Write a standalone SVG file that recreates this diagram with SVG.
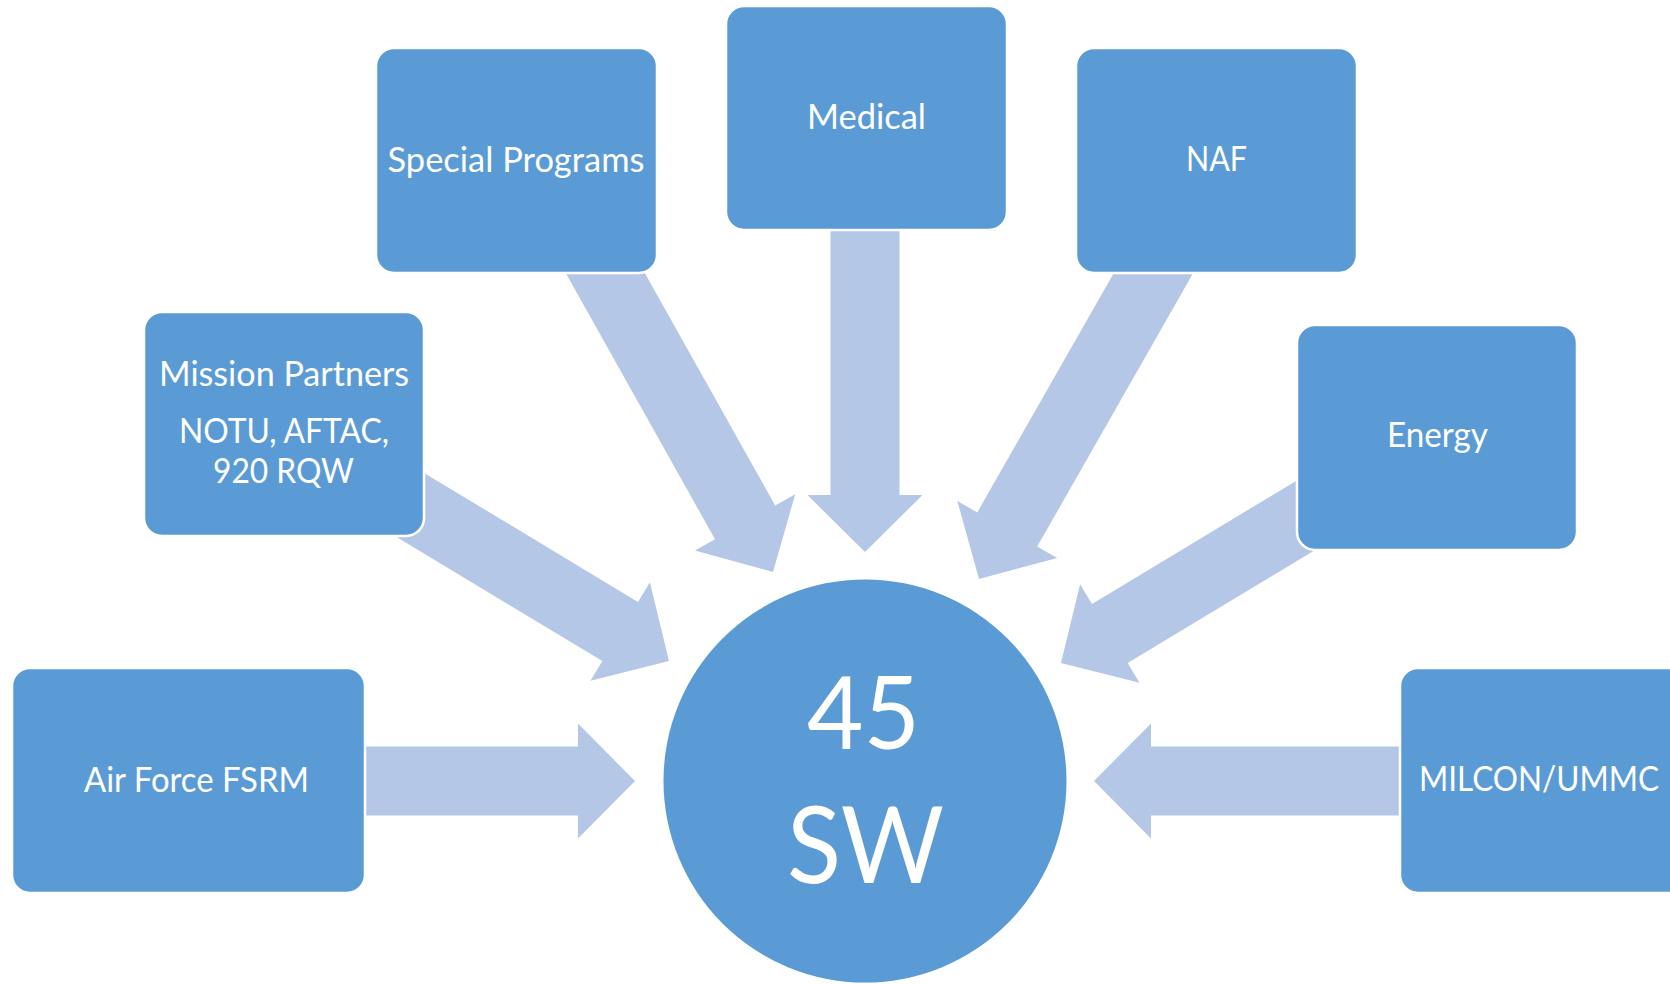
<svg xmlns="http://www.w3.org/2000/svg" width="1670" height="984" viewBox="0 0 1670 984">
<defs>
<style>
.box{fill:#5B9BD5;stroke:#FFFFFF;stroke-width:2.5}
.arr{fill:#B4C7E7}
.t{fill:#FFFFFF;font-family:Lato,"Open Sans","Liberation Sans",sans-serif;font-size:34px;text-anchor:middle}
.big{fill:#FFFFFF;font-family:Lato,"Open Sans","Liberation Sans",sans-serif;text-anchor:middle}
</style>
<path id="arrow" d="M-377,-34.5 L-57,-34.5 L-57,-57.5 L0,0 L-57,57.5 L-57,34.5 L-377,34.5 Z"/>
</defs>
<rect width="1670" height="984" fill="#FFFFFF"/>
<g id="connectors">
<use href="#arrow" class="arr" transform="translate(635,781) rotate(0)"/>
<use href="#arrow" class="arr" transform="translate(1094,781) rotate(180)"/>
<use href="#arrow" class="arr" transform="translate(865,552) rotate(90)"/>
<use href="#arrow" class="arr" transform="translate(773,572) rotate(60.7)"/>
<use href="#arrow" class="arr" transform="translate(979,579) rotate(119.7)"/>
<use href="#arrow" class="arr" transform="translate(669,661) rotate(31.1)"/>
<use href="#arrow" class="arr" transform="translate(1061,663) rotate(148.9)"/>
</g>
<g id="node-special">
<rect class="box" x="376" y="48" width="281" height="225" rx="18"/>
<text class="t" x="516" y="172" textLength="257" lengthAdjust="spacingAndGlyphs">Special Programs</text>
</g>
<g id="node-medical">
<rect class="box" x="726" y="6" width="281" height="224" rx="18"/>
<text class="t" x="866.5" y="129" textLength="119" lengthAdjust="spacingAndGlyphs">Medical</text>
</g>
<g id="node-naf">
<rect class="box" x="1076" y="48" width="281" height="225" rx="18"/>
<text class="t" x="1216.5" y="171" textLength="61" lengthAdjust="spacingAndGlyphs">NAF</text>
</g>
<g id="node-mission">
<rect class="box" x="144" y="312" width="280" height="224" rx="18"/>
<text class="t" x="284" y="386" textLength="250" lengthAdjust="spacingAndGlyphs">Mission Partners</text>
<text class="t" x="284" y="443" textLength="210" lengthAdjust="spacingAndGlyphs">NOTU, AFTAC,</text>
<text class="t" x="283.5" y="483" textLength="141" lengthAdjust="spacingAndGlyphs">920 RQW</text>
</g>
<g id="node-energy">
<rect class="box" x="1297" y="325" width="280" height="225" rx="18"/>
<text class="t" x="1437.5" y="447" textLength="101" lengthAdjust="spacingAndGlyphs">Energy</text>
</g>
<g id="node-fsrm">
<rect class="box" x="12" y="668" width="353" height="225" rx="18"/>
<text class="t" x="196.5" y="792" textLength="225" lengthAdjust="spacingAndGlyphs">Air Force FSRM</text>
</g>
<g id="node-milcon">
<rect class="box" x="1400" y="668" width="320" height="225" rx="18"/>
<text class="t" x="1539" y="791" textLength="240" lengthAdjust="spacingAndGlyphs">MILCON/UMMC</text>
</g>
<g id="node-45sw">
<circle cx="865" cy="781" r="201.5" fill="#5B9BD5"/>
<text class="big" x="863.5" y="749" font-size="100" textLength="113" lengthAdjust="spacingAndGlyphs">45</text>
<text class="big" x="865.5" y="883" font-size="107" textLength="157" lengthAdjust="spacingAndGlyphs">SW</text>
</g>
</svg>
